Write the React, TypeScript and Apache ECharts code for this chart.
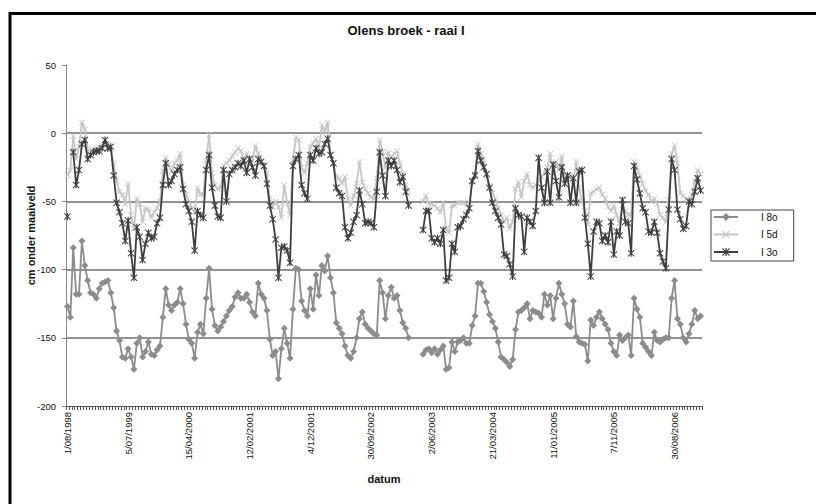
import React, { useEffect, useRef } from 'react';
import * as echarts from 'echarts';

// Tick labels shown on the category axis (one every 21 measurements)
const tickLabels = [
  '1/08/1998', '5/07/1999', '15/04/2000', '12/02/2001', '4/12/2001', '30/09/2002',
  '2/06/2003', '21/03/2004', '11/01/2005', '7/11/2005', '30/08/2006',
];
const labelStep = 21;

const seriesNames = ['I 8o', 'I 5d', 'I 3o'];

// I 8o
const s8o: (number | null)[] = [
  -127, -135, -84, -118, -118, -79, -97, -108, -117, -118,
  -121, -114, -110, -109, -108, -117, -128, -145, -152, -164,
  -165, -158, -164, -173, -154, -150, -164, -160, -153, -162,
  -163, -159, -156, -135, -114, -126, -130, -126, -124, -114,
  -125, -140, -151, -154, -165, -146, -140, -147, -121, -99,
  -129, -141, -145, -142, -138, -134, -130, -127, -120, -117,
  -121, -121, -118, -124, -131, -134, -110, -118, -121, -130,
  -151, -163, -160, -180, -158, -143, -154, -165, -129, -99,
  -100, -123, -130, -134, -114, -129, -104, -119, -97, -101,
  -90, -106, -117, -139, -143, -147, -156, -163, -165, -160,
  -150, -136, -131, -140, -143, -145, -147, -148, -108, -117,
  -136, -119, -113, -121, -119, -130, -139, -143, -150, null,
  null, null, null, -162, -159, -158, -161, -158, -162, -159,
  -156, -173, -172, -153, -160, -153, -152, -150, -154, -154,
  -141, -134, -110, -110, -116, -124, -133, -138, -143, -153,
  -164, -166, -168, -171, -166, -144, -131, -130, -128, -125,
  -136, -130, -131, -132, -135, -118, -126, -119, -136, -121,
  -110, -118, -125, -140, -142, -123, -149, -153, -154, -155,
  -167, -137, -141, -135, -131, -136, -140, -144, -154, -160,
  -163, -148, -152, -150, -148, -163, -121, -129, -135, -154,
  -157, -160, -163, -146, -152, -153, -151, -150, -150, -121,
  -108, -136, -140, -150, -153, -147, -140, -130, -136, -134,
];

// I 5d
const s5d: (number | null)[] = [
  -31, -27, -2, -19, -10, 8, 3, -12, -14, -12,
  -11, -10, -9, -7, -8, -12, -22, -35, -43, -45,
  -52, -37, -60, -70, -48, -52, -65, -55, -56, -62,
  -58, -55, -50, -28, -18, -23, -28, -22, -20, -15,
  -38, -45, -50, -55, -58, -40, -45, -45, -20, -1,
  -29, -38, -41, -40, -24, -22, -20, -17, -14, -11,
  -13, -21, -15, -19, -20, -9, -15, -21, -24, -29,
  -48, -54, -50, -54, -62, -38, -51, -60, -20, -3,
  -5, -25, -29, -22, -10, -7, -4, -11, 6, 1,
  8, -16, -22, -32, -33, -37, -32, -48, -53, -46,
  -37, -21, -36, -41, -44, -47, -48, -33, -5, -14,
  -25, -14, -18, -15, -13, -22, -30, -38, -42, null,
  null, null, null, -50, -46, -52, -52, -53, -55, -58,
  -51, -70, -73, -53, -53, -51, -51, -51, -52, -51,
  -36, -30, -8, -15, -20, -32, -38, -44, -48, -55,
  -60, -65, -62, -70, -65, -41, -36, -47, -35, -30,
  -38, -40, -38, -35, -32, -29, -25, -15, -30, -21,
  -27, -17, -30, -33, -31, -35, -21, -40, -50, -57,
  -67, -44, -43, -41, -40, -45, -48, -54, -57, -53,
  -60, -66, -53, -57, -60, -60, -21, -25, -31, -37,
  -42, -45, -50, -48, -52, -60, -62, -65, -49, -15,
  -9, -22, -44, -46, -48, -50, -45, -35, -27, -30,
];

// I 3o
const s3o: (number | null)[] = [
  -61, null, -14, -38, -27, -8, -5, -19, -16, -14,
  -13, -13, -11, -5, -11, -10, -31, -51, -58, -66,
  -79, -64, -88, -106, -69, -76, -93, -81, -73, -77,
  -76, -66, -62, -38, -22, -38, -35, -30, -27, -25,
  -41, -52, -57, -65, -86, -57, -60, -62, -27, -16,
  -40, -53, -61, -62, -27, -50, -30, -27, -25, -22,
  -24, -20, -29, -19, -25, -31, -19, -21, -24, -37,
  -53, -63, -78, -106, -84, -83, -86, -95, -24, -19,
  -16, -38, -44, -48, -16, -20, -11, -15, -14, -8,
  -4, -16, -22, -40, -44, -46, -69, -77, -73, -65,
  -60, -42, -52, -66, -65, -66, -69, -43, -14, -31,
  -46, -20, -24, -20, -27, -36, -32, -43, -53, null,
  null, null, null, -71, -57, -57, -77, -80, -77, -81,
  -71, -108, -106, -81, -87, -69, -68, -63, -60, -55,
  -35, -31, -13, -20, -25, -30, -40, -51, -57, -62,
  -67, -89, -90, -96, -105, -55, -60, -61, -87, -62,
  -65, -68, -57, -18, -40, -51, -28, -51, -23, -35,
  -47, -25, -37, -31, -51, -33, -51, -28, -27, -62,
  -81, -105, -72, -65, -66, -79, -75, -80, -65, -89,
  -72, -75, -49, -65, -66, -88, -24, -34, -44, -55,
  -58, -72, -73, -65, -73, -88, -94, -99, -56, -19,
  -27, -56, -63, -70, -68, -50, -52, -43, -33, -42,
];

const categories = s8o.map((_, i) => String(i));

const xMark = 'path://M1,0L5,4L9,0L10,1L6,5L10,9L9,10L5,6L1,10L0,9L4,5L0,1Z';
const starMark =
  'path://M1,0L5,4L9,0L10,1L6,5L10,9L9,10L5,6L1,10L0,9L4,5L0,1Z M4.2,0L5.8,0L5.8,10L4.2,10Z';

const FONT = '"Liberation Sans", Arial, sans-serif';

export default function App() {
  const ref = useRef<HTMLDivElement>(null);

  useEffect(() => {
    if (!ref.current) return;
    const chart = echarts.init(ref.current, undefined, { renderer: 'svg' });
    chart.setOption({
      animation: false,
      backgroundColor: '#ffffff',
      textStyle: { fontFamily: FONT },
      title: {
        text: 'Olens broek - raai I',
        left: 401,
        top: 19,
        textAlign: 'center',
        textStyle: { fontFamily: FONT, fontSize: 13, fontWeight: 'bold', color: '#111' },
      },
      legend: {
        data: seriesNames,
        orient: 'vertical',
        left: 711,
        top: 210,
        itemWidth: 24,
        itemHeight: 10,
        itemGap: 7.5,
        padding: [2, 16, 4, 2],
        borderColor: '#444',
        borderWidth: 1,
        textStyle: { fontFamily: FONT, fontSize: 10, color: '#111', padding: [0, 0, 0, 18], lineHeight: 10 },
      },
      grid: { left: 66, right: 114, top: 65, bottom: 98, containLabel: false },
      xAxis: {
        type: 'category',
        data: categories,
        boundaryGap: true,
        name: 'datum',
        nameLocation: 'middle',
        nameGap: 67,
        nameMoveOverlap: false,
        nameTextStyle: { fontFamily: FONT, fontSize: 11, fontWeight: 'bold', color: '#111' },
        axisLine: { show: true, onZero: false, lineStyle: { color: '#555', width: 1 } },
        axisTick: { show: true, interval: 0, length: 4, lineStyle: { color: '#555', width: 1 } },
        axisLabel: {
          interval: labelStep - 1,
          rotate: 90,
          margin: 6,
          fontFamily: FONT,
          fontSize: 9.5,
          color: '#111',
          formatter: (_v: string, idx: number) =>
            idx % labelStep === 0 ? tickLabels[idx / labelStep] ?? '' : '',
        },
        splitLine: { show: false },
      },
      yAxis: {
        type: 'value',
        min: -200,
        max: 50,
        interval: 50,
        name: 'cm onder maaiveld',
        nameLocation: 'middle',
        nameGap: 30,
        nameRotate: 90,
        nameMoveOverlap: false,
        nameTextStyle: { fontFamily: FONT, fontSize: 11, fontWeight: 'bold', color: '#111' },
        axisLine: { show: true, lineStyle: { color: '#888', width: 1 } },
        axisTick: { show: true, length: 4, lineStyle: { color: '#888' } },
        axisLabel: { fontFamily: FONT, fontSize: 9.5, color: '#111', margin: 10 },
        splitLine: {
          show: true,
          showMinLine: false,
          showMaxLine: false,
          lineStyle: { color: '#6e6e6e', width: 1.5 },
        },
      },
      series: [
        {
          name: 'I 8o',
          type: 'line',
          data: s8o,
          connectNulls: false,
          showAllSymbol: true,
          symbol: 'diamond',
          symbolSize: 7,
          lineStyle: { color: '#8c8c8c', width: 1.8 },
          itemStyle: { color: '#8c8c8c' },
          z: 2,
        },
        {
          name: 'I 5d',
          type: 'line',
          data: s5d,
          connectNulls: false,
          showAllSymbol: true,
          symbol: xMark,
          symbolSize: 6,
          lineStyle: { color: '#c6c6c6', width: 1.8 },
          itemStyle: { color: '#c6c6c6' },
          z: 3,
        },
        {
          name: 'I 3o',
          type: 'line',
          data: s3o,
          connectNulls: false,
          showAllSymbol: true,
          symbol: starMark,
          symbolSize: 7,
          lineStyle: { color: '#3e3e3e', width: 1.8 },
          itemStyle: { color: '#3e3e3e' },
          z: 4,
        },
      ],
      graphic: [
        {
          type: 'rect',
          silent: true,
          z: 100,
          shape: { x: 10, y: 13.5, width: 900, height: 600 },
          style: { fill: 'none', stroke: '#000', lineWidth: 3 },
        },
      ],
    });
    return () => chart.dispose();
  }, []);

  return (
    <div
      ref={ref}
      style={{ position: 'absolute', left: 0, top: 0, width: 816, height: 504 }}
    />
  );
}
